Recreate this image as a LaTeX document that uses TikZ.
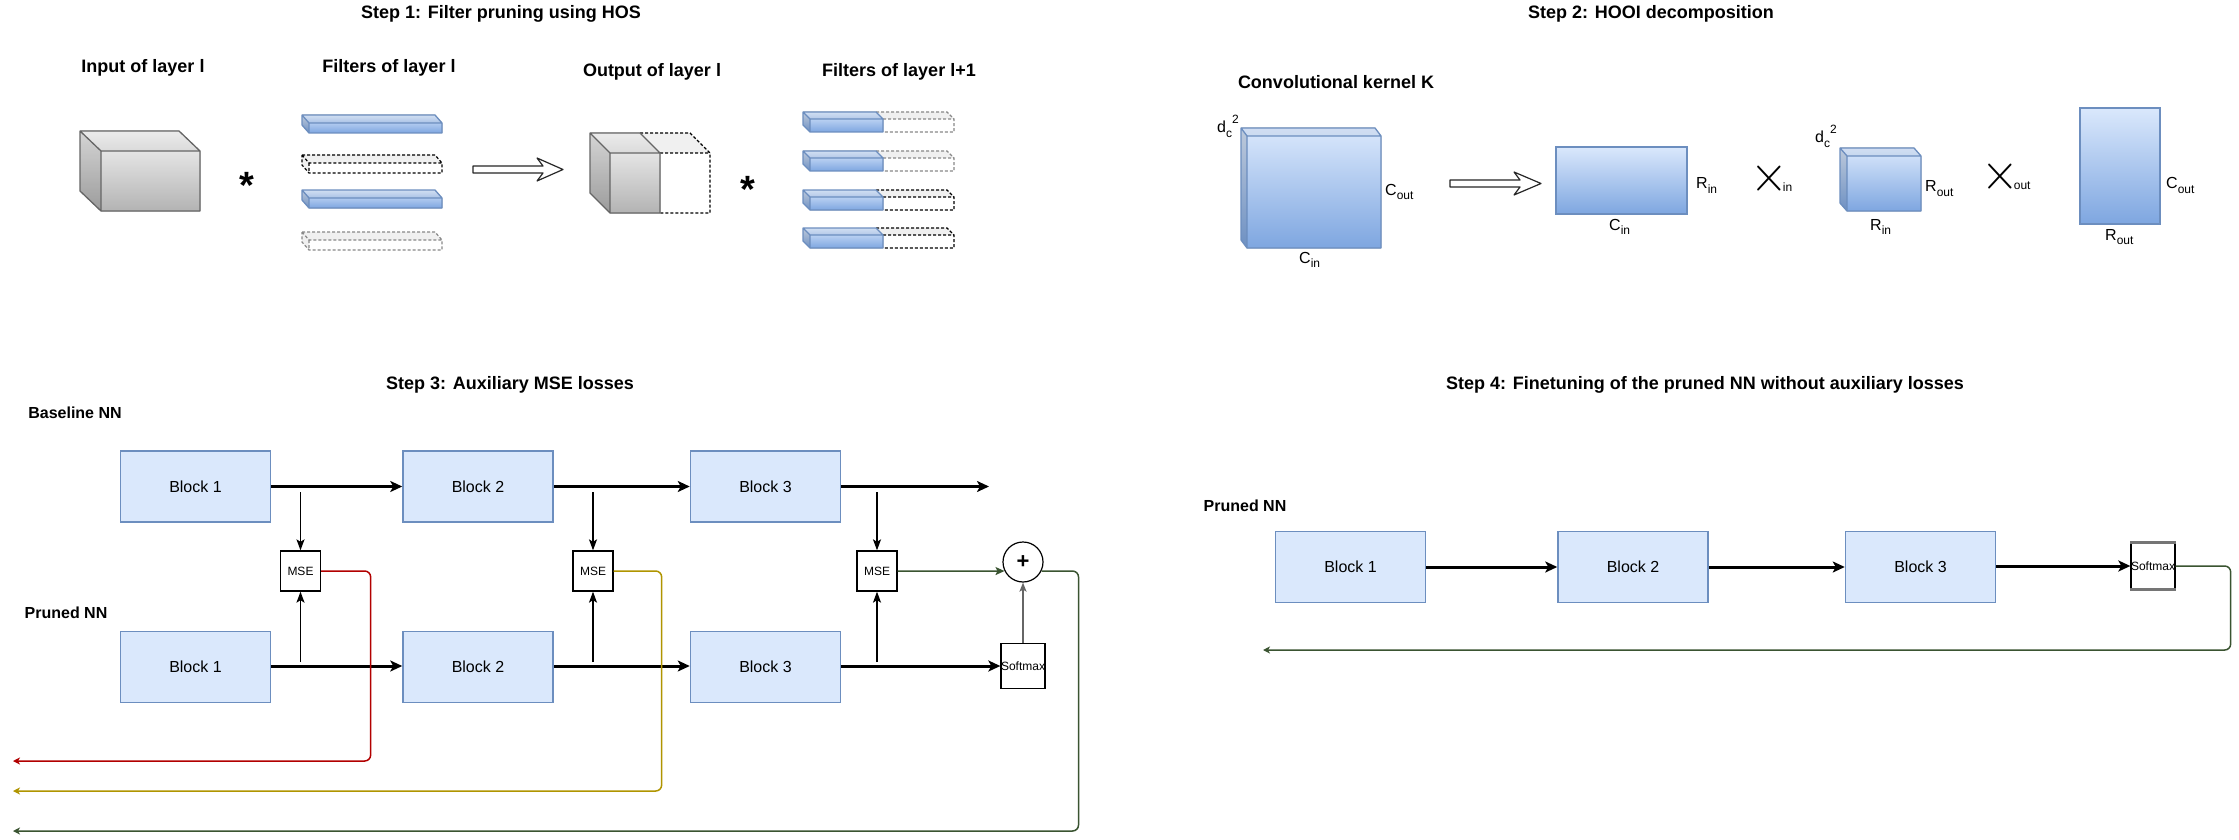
\documentclass[tikz,border=0pt]{standalone}
\usepackage{fontspec}
\setmainfont{Liberation Sans}
\usetikzlibrary{arrows.meta}
\definecolor{grays}{HTML}{666666}
\definecolor{grayt}{HTML}{F5F5F5}
\definecolor{grayb}{HTML}{B3B3B3}
\definecolor{blues}{HTML}{6C8EBF}
\definecolor{bluet}{HTML}{DAE8FC}
\definecolor{blueb}{HTML}{7EA6E0}
\definecolor{blockfill}{HTML}{DAE8FC}
\definecolor{lossred}{HTML}{B20000}
\definecolor{lossyel}{HTML}{B09500}
\definecolor{lossgrn}{HTML}{3A5431}
\definecolor{ghost}{HTML}{F0F0F0}
\definecolor{dashgray}{HTML}{888888}
\newcommand\myfs[1]{\fontsize{#1}{#1}\selectfont}
\newcommand\mysub[1]{\raisebox{-0.3em}{\myfs{12}#1}}
\newcommand\mysup[1]{\raisebox{0.6em}{\myfs{12}#1}}
\newcommand\bigx{\raisebox{-4.5pt}{\scalebox{2.8}[3.0]{$\times$}}}
% solid shaded cuboid: x0 y0 x1 y1 dx dy colourprefix
\newcommand\solidbox[7]{%
  \fill[top color=#7t, bottom color=#7b]
    (#1,#2) -- ({#3-#5},#2) -- (#3,{#2+#6}) -- (#3,#4) -- ({#1+#5},#4) -- (#1,{#4-#6}) -- cycle;
  \fill[black, opacity=0.13] (#1,#2) -- ({#1+#5},{#2+#6}) -- ({#1+#5},#4) -- (#1,{#4-#6}) -- cycle;
  \fill[black, opacity=0.04] (#1,#2) -- ({#3-#5},#2) -- (#3,{#2+#6}) -- ({#1+#5},{#2+#6}) -- cycle;
  \draw[#7s, line width=1.3pt, line join=round]
    (#1,#2) -- ({#3-#5},#2) -- (#3,{#2+#6}) -- (#3,#4) -- ({#1+#5},#4) -- (#1,{#4-#6}) -- cycle
    (#1,#2) -- ({#1+#5},{#2+#6}) -- (#3,{#2+#6})
    ({#1+#5},{#2+#6}) -- ({#1+#5},#4);
}
% dashed (pruned) cuboid: x0 y0 x1 y1 dx dy dashcolour
\newcommand\ghostbox[7]{%
  \fill[white] (#1,#2) -- ({#3-#5},#2) -- (#3,{#2+#6}) -- (#3,#4) -- ({#1+#5},#4) -- (#1,{#4-#6}) -- cycle;
  \fill[ghost] (#1,#2) -- ({#3-#5},#2) -- (#3,{#2+#6}) -- ({#1+#5},{#2+#6}) -- cycle;
  \fill[ghost] (#1,#2) -- ({#1+#5},{#2+#6}) -- ({#1+#5},#4) -- (#1,{#4-#6}) -- cycle;
  \draw[#7, line width=1.2pt, dash pattern=on 3pt off 2pt]
    (#1,#2) -- ({#3-#5},#2) -- (#3,{#2+#6}) -- (#3,#4) -- ({#1+#5},#4) -- (#1,{#4-#6}) -- cycle
    (#1,#2) -- ({#1+#5},{#2+#6}) -- (#3,{#2+#6})
    ({#1+#5},{#2+#6}) -- ({#1+#5},#4);
}
% dashed extension of a bar: xs (front face start) y0 xe y1 dx dy dashcolour
\newcommand\ghostext[7]{%
  \fill[ghost] ({#1-#5},#2) -- ({#3-#5},#2) -- (#3,{#2+#6}) -- (#1,{#2+#6}) -- cycle;
  \draw[#7, line width=1.2pt, dash pattern=on 3pt off 2pt]
    ({#1-#5},#2) -- ({#3-#5},#2) -- (#3,{#2+#6}) -- (#3,#4) -- (#1,#4)
    (#1,{#2+#6}) -- (#3,{#2+#6});
}
\begin{document}
\begin{tikzpicture}[x=1pt,y=-1pt,
  title/.style={font=\myfs{18}\bfseries, inner sep=0pt, anchor=base},
  sublab/.style={font=\myfs{16}\bfseries, inner sep=0pt, anchor=base},
  dimlab/.style={font=\myfs{16}, inner sep=0pt, anchor=base west},
  block/.style={draw=blues, fill=blockfill, line width=1.5pt, minimum width=150pt,
    minimum height=71pt, inner sep=0pt, font=\myfs{16}},
  smallbox/.style={draw=black, fill=white, line width=1.3pt, minimum width=40pt,
    minimum height=40pt, inner sep=0pt, font=\myfs{12}},
  softbox/.style={smallbox, minimum width=44pt, minimum height=45pt},
  flow/.style={line width=3pt, -{Stealth[length=12pt,width=11pt,inset=3pt]}},
  tap/.style={line width=1.5pt, -{Stealth[length=11pt,width=8pt,inset=2.5pt]}},
  loss/.style={line width=1.5pt, rounded corners=6pt, -{Stealth[length=7pt,width=7pt,inset=2pt]}},
  hollow/.style={draw=black!85, fill=white, line width=1.2pt, line join=round}
]
\useasboundingbox (0,0) rectangle (2239,840);
\fill[white] (0,0) rectangle (2239,840);

% ================= Step 1 =================
\node[title] (t1) at (501,19) {Step 1: Filter pruning using HOS};
\node[title] (lin) at (143,73) {Input of layer l};
\node[title] (lfl) at (389,73) {Filters of layer l};
\node[title] (lout) at (652,77) {Output of layer l};
\node[title] (lfl2) at (899,77) {Filters of layer l+1};

\solidbox{80}{131}{200}{211}{21}{20}{gray}
\node[font=\myfs{38}\bfseries, inner sep=0pt, anchor=base] (star1) at (247,198) {*};

\solidbox{302}{115}{442}{133}{7}{8}{blue}
\ghostbox{302}{155}{442}{173}{7}{8}{black}
\solidbox{302}{190}{442}{208}{7}{8}{blue}
\ghostbox{302}{232}{442}{250}{7}{8}{dashgray}

\draw[hollow] (473,166) -- (543,166) -- (537,158) -- (563,169.5) -- (537,181) -- (543,173) -- (473,173) -- cycle;

% output cube (solid part + pruned dashed part)
\fill[white] (660,153) rectangle (710,213);
\fill[ghost] (640,133) -- (690,133) -- (710,153) -- (660,153) -- cycle;
\draw[black, line width=1.2pt, dash pattern=on 3pt off 2pt]
  (640,133) -- (690,133) -- (710,153) -- (710,213) -- (660,213) (660,153) -- (710,153);
\solidbox{590}{133}{660}{213}{20}{20}{gray}

\node[font=\myfs{38}\bfseries, inner sep=0pt, anchor=base] (star2) at (748,203) {*};

\ghostext{883}{112}{954}{132}{7}{7}{dashgray}
\solidbox{803}{112}{883}{132}{7}{7}{blue}
\ghostext{883}{151}{954}{171}{7}{7}{dashgray}
\solidbox{803}{151}{883}{171}{7}{7}{blue}
\ghostext{883}{190}{954}{210}{7}{7}{black}
\solidbox{803}{190}{883}{210}{7}{7}{blue}
\ghostext{883}{228}{954}{248}{7}{7}{black}
\solidbox{803}{228}{883}{248}{7}{7}{blue}

% ================= Step 2 =================
\node[title] (t2) at (1651,19) {Step 2: HOOI decomposition};
\node[title] (lker) at (1336,89) {Convolutional kernel K};

\solidbox{1241}{128}{1381}{248}{6}{8}{blue}
\node[dimlab] (kd) at (1217,133) {d\mysub{c}\mysup{2}};
\node[dimlab] (kco) at (1385,195) {C\mysub{out}};
\node[dimlab] (kci) at (1299,263) {C\mysub{in}};

\draw[hollow] (1450,180) -- (1520,180) -- (1514,172) -- (1541,183.5) -- (1514,195) -- (1520,187) -- (1450,187) -- cycle;

\draw[blues, line width=1.3pt, top color=bluet, bottom color=blueb] (1556,147) rectangle (1687,214);
\node[dimlab] (ari) at (1696,189) {R\mysub{in}};
\node[dimlab] (aci) at (1609,230) {C\mysub{in}};

\node[dimlab] (xin) at (1750,187) {\bigx\kern-5pt\mysub{in}};

\solidbox{1840}{148}{1921}{211}{7}{8}{blue}
\node[dimlab] (cd) at (1815,143) {d\mysub{c}\mysup{2}};
\node[dimlab] (cro) at (1925,192) {R\mysub{out}};
\node[dimlab] (cri) at (1870,230) {R\mysub{in}};

\node[dimlab] (xout) at (1981,185) {\bigx\kern-5pt\mysub{out}};

\draw[blues, line width=1.3pt, top color=bluet, bottom color=blueb] (2080,108) rectangle (2160,224);
\draw[blues, line width=2.5pt] (2080,108) -- (2160,108);
\node[dimlab] (bco) at (2166,189) {C\mysub{out}};
\node[dimlab] (bro) at (2105,240) {R\mysub{out}};

% ================= Step 3 =================
\node[title] (t3) at (510,389) {Step 3: Auxiliary MSE losses};
\node[sublab] (lbase) at (75,418) {Baseline NN};
\node[sublab] (lpr) at (66,618) {Pruned NN};

\node[block] (b1t) at (195.5,486.5) {Block 1};
\node[block] (b2t) at (478,486.5) {Block 2};
\node[block] (b3t) at (765.5,486.5) {Block 3};
\node[block] (b1b) at (195.5,667) {Block 1};
\node[block] (b2b) at (478,667) {Block 2};
\node[block] (b3b) at (765.5,667) {Block 3};

\node[smallbox] (mse1) at (300.5,571) {MSE};
\node[smallbox] (mse2) at (593,571) {MSE};
\node[smallbox] (mse3) at (877,571) {MSE};
\node[softbox] (sm3) at (1023,666) {Softmax};
\node[draw=black, fill=white, circle, line width=1.2pt, minimum size=40pt, inner sep=0pt,
  font=\myfs{22}\bfseries] (plus) at (1023,562) {+};

\coordinate (out3) at (989,486.5);
\coordinate (tt1) at (300.5,492);
\coordinate (tt2) at (593,492);
\coordinate (tt3) at (877,492);
\coordinate (tb1) at (300.5,662);
\coordinate (tb2) at (593,662);
\coordinate (tb3) at (877,662);
\coordinate (redend) at (13,761);
\coordinate (yelend) at (13,791);
\coordinate (grnend) at (13,831);

\draw[flow] (b1t) -- (b2t);
\draw[flow] (b2t) -- (b3t);
\draw[flow] (b3t) -- (out3);
\draw[flow] (b1b.east |- 0,666) -- (b2b.west |- 0,666);
\draw[flow] (b2b.east |- 0,666) -- (b3b.west |- 0,666);
\draw[flow] (b3b.east |- 0,666) -- (sm3.west);

\draw[tap] (tt1) -- (mse1);
\draw[tap] (tt2) -- (mse2);
\draw[tap] (tt3) -- (mse3);
\draw[tap] (tb1) -- (mse1);
\draw[tap] (tb2) -- (mse2);
\draw[tap] (tb3) -- (mse3);

\draw[grays, line width=1.5pt, -{Stealth[length=9pt,width=7pt,inset=2pt]}] (sm3) -- (plus);
\draw[lossgrn, line width=1.5pt, -{Stealth[length=9pt,width=8pt,inset=2pt]}] (mse3.east) -- (plus.206.7);

\draw[loss, lossred] (mse1.east) -- ++(49.5,0) |- (redend);
\draw[loss, lossyel] (mse2.east) -- ++(48,0) |- (yelend);
\draw[loss, lossgrn] (plus.-26.7) -- ++(37,0) |- (grnend);

% ================= Step 4 =================
\node[title] (t4) at (1705,389) {Step 4: Finetuning of the pruned NN without auxiliary losses};
\node[sublab] (lpr4) at (1245,511) {Pruned NN};

\node[block] (c1) at (1350.5,567) {Block 1};
\node[block] (c2) at (1633,567) {Block 2};
\node[block] (c3) at (1920.5,567) {Block 3};
\node[softbox] (sm4) at (2153,566) {Softmax};
\draw[grays!90, line width=3pt] (sm4.north west) -- (sm4.north east) (sm4.south west) -- (sm4.south east);

\coordinate (grn4end) at (1263,650);
\draw[flow] (c1) -- (c2);
\draw[flow] (c2) -- (c3);
\draw[flow] (c3.east |- 0,566) -- (sm4.west);
\draw[loss, lossgrn] (sm4.east) -- ++(55,0) |- (grn4end);
\end{tikzpicture}
\end{document}
